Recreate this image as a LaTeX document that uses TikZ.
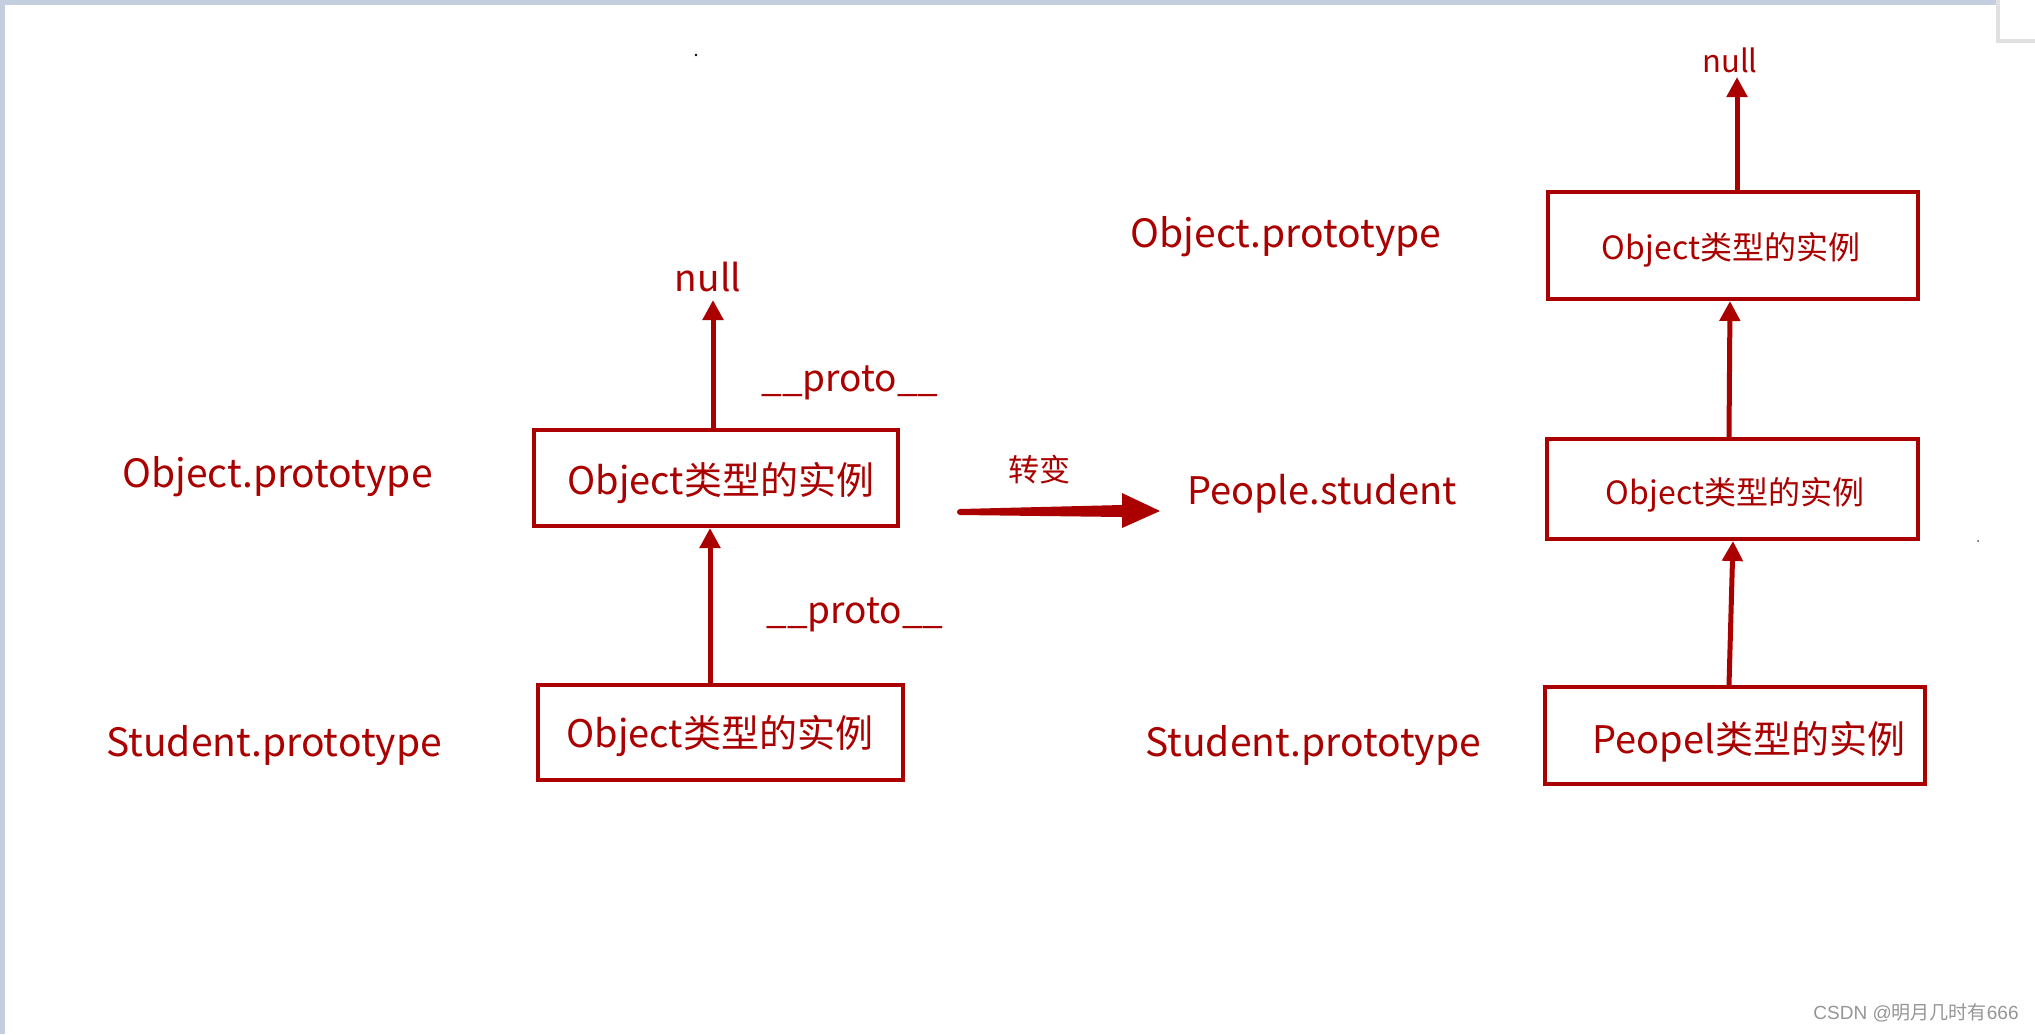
\documentclass[tikz,border=0pt]{standalone}
\usepackage{fontspec}
\setmainfont{Noto Sans CJK SC}
\newfontfamily\arialf{Liberation Sans}
\usetikzlibrary{arrows.meta,calc}
\definecolor{dr}{RGB}{170,0,0}
\definecolor{barc}{RGB}{197,206,222}
\definecolor{wmark}{RGB}{150,150,150}
\newcommand{\fsz}[1]{\fontsize{#1}{#1}\selectfont}
\begin{document}
\begin{tikzpicture}[x=1pt,y=-1pt,
  box/.style={draw=dr, line width=4pt, inner sep=0pt, fill=none},
  lbl/.style={text=dr, inner sep=0pt, anchor=center},
  link/.style={draw=dr, line width=5pt, -{Triangle[length=20pt,width=20pt]}},
]
\useasboundingbox (0,0) rectangle (2035,1034);
\fill[white] (0,0) rectangle (2035,1034);
\fill[barc] (0,0) rectangle (2000,5);
\fill[barc] (0,0) rectangle (5,1034);
\fill[black!12] (1996,0) rectangle (2035,43);
\fill[white] (2000,0) rectangle (2035,39);
\fill[black] (696,55) circle (1.3);
\fill[black!70] (1978,541) circle (1);

% ---------- left part ----------
\node[box, minimum width=364, minimum height=96] (b1) at (716,478) {};
\node[lbl, font=\fsz{38}] (b1t) at (721,483) {Object类型的实例};
\node[box, minimum width=365, minimum height=95] (b2) at (720.5,732.5) {};
\node[lbl, font=\fsz{38}] (b2t) at (720,736) {Object类型的实例};

\node[lbl, font=\fsz{37}] (nullL) at (708,277) {null};
\node[lbl, font=\fsz{37}] (p1) at (850,383) {\_\_proto\_\_};
\node[lbl, font=\fsz{37}] (p2) at (855,615) {\_\_proto\_\_};

\node[lbl, font=\fsz{39}] (objL) at (277.5,477) {Object.prototype};
\node[lbl, font=\fsz{39}] (stuL) at (274,746) {Student.prototype};

\draw[link] ([xshift=-3pt]b1.north) -- ([xshift=-3pt]b1.north |- 0,300);
\draw[link] ([xshift=-10.5pt]b2.north) -- ([xshift=-6pt]b1.south);

% ---------- transition arrow ----------
\node[lbl, font=\fsz{31}] (tr) at (1039,470) {转变};
\coordinate (ta) at (960,512);
\coordinate (tb) at (1160,511);
\fill[dr] ($(ta)+(0,-3)$) -- ($(tb)+(-38,-6)$) -- ($(tb)+(-38,-18)$) -- (tb)
  -- ($(tb)+(-38,17)$) -- ($(tb)+(-38,6)$) -- ($(ta)+(0,3)$)
  arc[start angle=90, end angle=270, radius=3] -- cycle;

% ---------- right part ----------
\node[lbl, font=\fsz{39}] (objR) at (1286,237) {Object.prototype};
\node[lbl, font=\fsz{38}] (peoR) at (1322,494) {People.student};
\node[lbl, font=\fsz{39}] (stuR) at (1313,746) {Student.prototype};

\node[box, minimum width=370, minimum height=107] (r1) at (1733,245.5) {};
\node[lbl, font=\fsz{32}] (r1t) at (1731,250) {Object类型的实例};
\node[box, minimum width=371, minimum height=100] (r2) at (1732.5,489) {};
\node[lbl, font=\fsz{32}] (r2t) at (1735,495) {Object类型的实例};
\node[box, minimum width=380, minimum height=97] (r3) at (1735,735.5) {};
\node[lbl, font=\fsz{38}] (r3t) at (1749,742) {Peopel类型的实例};

\node[lbl, font=\fsz{31}] (nullR) at (1730,60) {null};
\draw[link] ([xshift=4pt]r1.north) -- ([xshift=4pt]r1.north |- 0,77);
\draw[link] ([xshift=-3.5pt]r2.north) -- ([xshift=-3pt]r1.south);
\draw[link] ([xshift=-6pt]r3.north) -- ([xshift=0.5pt]r2.south);

% ---------- watermark ----------
\node[inner sep=0pt, text=wmark, font=\fsz{19}] (wm) at (1916,1013) {{\arialf CSDN @}明月几时有{\arialf 666}};
\end{tikzpicture}
\end{document}
